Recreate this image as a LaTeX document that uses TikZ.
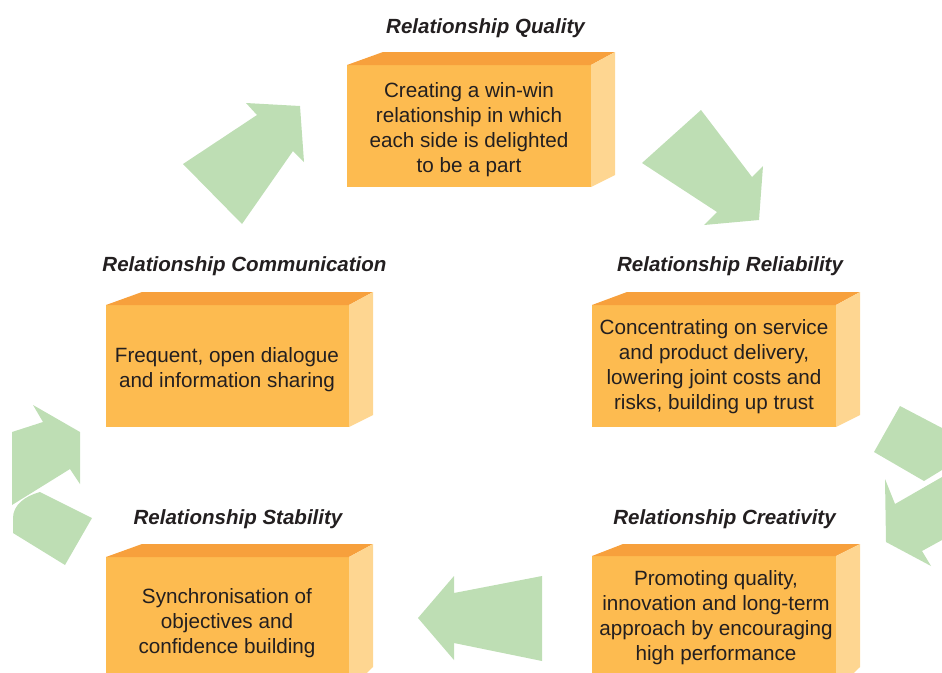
\documentclass[tikz,border=0pt]{standalone}
\usepackage{fontspec}
\setmainfont{Liberation Sans}
\definecolor{frontc}{RGB}{253,187,80}
\definecolor{topc}{RGB}{247,160,60}
\definecolor{sidec}{RGB}{254,214,145}
\definecolor{arrowc}{RGB}{190,222,180}
\definecolor{txt}{RGB}{35,31,32}
\tikzset{
  boxtext/.style={text=txt, font=\fontsize{15.5}{18.75}\selectfont, align=center, inner sep=0pt},
  titletext/.style={text=txt, font=\fontsize{15.4}{18}\selectfont\bfseries\itshape, inner sep=0pt},
  bigarrow/.style={fill=arrowc, draw=none},
  frontface/.style={fill=frontc},
  topface/.style={fill=topc},
  sideface/.style={fill=sidec}
}
% #1 left, #2 right, #3 top, #4 bottom, #5 back y, #6 back-left x, #7 back-right x, #8 side bottom y
\newcommand\cuboidbox[8]{%
  \fill[frontface] (#1,#3) rectangle (#2,#4);
  \fill[topface] (#1,#3) -- (#6,#5) -- (#7,#5) -- (#2,#3) -- cycle;
  \fill[sideface] (#2,#3) -- (#7,#5) -- (#7,#8) -- (#2,#4) -- cycle;
}
\begin{document}
\begin{tikzpicture}[x=0.75pt,y=-0.75pt]
\useasboundingbox (0,0) rectangle (942,672);
\clip (0,0) rectangle (942,672);

% boxes
\cuboidbox{347}{591}{65}{187}{52}{383}{615}{175}
\cuboidbox{106}{349}{305}{427}{292}{142}{373}{415}
\cuboidbox{592}{836}{305}{427}{292}{627}{860}{415}
\cuboidbox{106}{349}{557}{690}{544}{142}{373}{667}
\cuboidbox{592}{836}{556}{690}{544}{623}{860}{667}

% titles
\node[titletext] (tq) at (485.5,28.5) {Relationship Quality};
\node[titletext] (tcm) at (244.5,266.5) {Relationship Communication};
\node[titletext] (tr) at (730,266.5) {Relationship Reliability};
\node[titletext] (ts) at (238,519.5) {Relationship Stability};
\node[titletext] (tcr) at (724.5,519.5) {Relationship Creativity};

% box texts
\node[boxtext] (bq) at (469,129.5) {Creating a win-win\\relationship in which\\each side is delighted\\to be a part};
\node[boxtext] (bcm) at (227,369.5) {Frequent, open dialogue\\and information sharing};
\node[boxtext] (br) at (714,367) {Concentrating on service\\and product delivery,\\lowering joint costs and\\risks, building up trust};
\node[boxtext] (bs) at (227,623) {Synchronisation of\\objectives and\\confidence building};
\node[boxtext] (bcr) at (716,617.5) {Promoting quality,\\innovation and long-term\\approach by encouraging\\high performance};

% arrows
\fill[bigarrow] (183,164) -- (257,115) -- (246,103) -- (300,106) -- (304,162) -- (293,151) -- (242,224) -- cycle;
\fill[bigarrow] (701,110) -- (752,177) -- (763,166) -- (759,220) -- (704,225) -- (717,212) -- (642,163) -- cycle;
\fill[bigarrow] (542,576) -- (454,593) -- (454,576) -- (418,618) -- (454,660) -- (454,643) -- (542,661) -- cycle;
\fill[bigarrow] (12,432) -- (43,422) -- (33,405) -- (80,432) -- (80,484) -- (70,469) -- (12,505) -- cycle;
\fill[bigarrow] (40,492) -- (92,518) -- (65,565) -- (13,533) -- (13,518) .. controls (13,505) and (25,496) .. (40,492) -- cycle;
\fill[bigarrow] (900,406) -- (942,428) -- (942,470) -- (924,481) -- (874,452) -- cycle;
\fill[bigarrow] (885,479) -- (895,504) -- (942,477) -- (942,540) -- (922,551) -- (931,566) -- (886,542) -- cycle;
\end{tikzpicture}
\end{document}
